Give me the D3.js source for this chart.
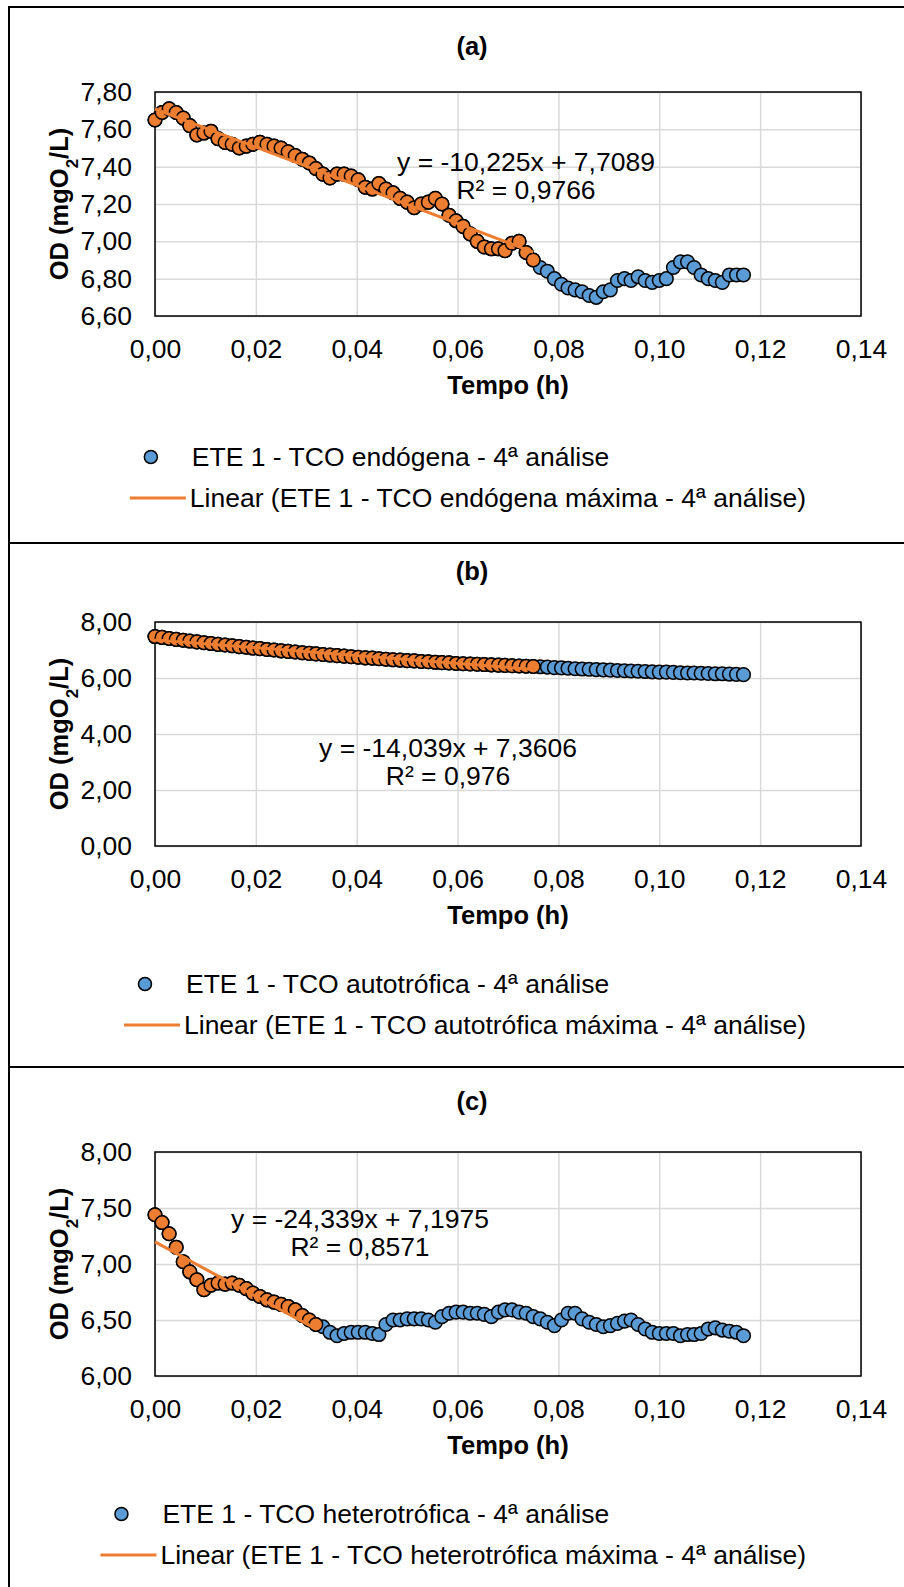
<!DOCTYPE html>
<html>
<head>
<meta charset="utf-8">
<script src="https://cdn.jsdelivr.net/npm/d3@7"></script>
<style>
  body { margin: 0; background: #fff; }
  svg { display: block; font-family: Arial, "Liberation Sans", sans-serif; }
</style>
</head>
<body>
<div id="chart"></div>
<script>
// Tempo (h) - one reading every 5 s
const tempo = [
  0.0000, 0.0014, 0.0028, 0.0042, 0.0056, 0.0069, 0.0083, 0.0097, 0.0111, 0.0125,
  0.0139, 0.0153, 0.0167, 0.0181, 0.0194, 0.0208, 0.0222, 0.0236, 0.0250, 0.0264,
  0.0278, 0.0292, 0.0306, 0.0319, 0.0333, 0.0347, 0.0361, 0.0375, 0.0389, 0.0403,
  0.0417, 0.0431, 0.0444, 0.0458, 0.0472, 0.0486, 0.0500, 0.0514, 0.0528, 0.0542,
  0.0556, 0.0569, 0.0583, 0.0597, 0.0611, 0.0625, 0.0639, 0.0653, 0.0667, 0.0681,
  0.0694, 0.0708, 0.0722, 0.0736, 0.0750, 0.0764, 0.0778, 0.0792, 0.0806, 0.0819,
  0.0833, 0.0847, 0.0861, 0.0875, 0.0889, 0.0903, 0.0917, 0.0931, 0.0944, 0.0958,
  0.0972, 0.0986, 0.1000, 0.1014, 0.1028, 0.1042, 0.1056, 0.1069, 0.1083, 0.1097,
  0.1111, 0.1125, 0.1139, 0.1153, 0.1167
];

// OD (mgO2/L)
const odEndogena = [
  7.65, 7.69, 7.71, 7.69, 7.66, 7.62, 7.57, 7.58, 7.59, 7.55,
  7.53, 7.52, 7.50, 7.51, 7.52, 7.53, 7.52, 7.51, 7.50, 7.48,
  7.46, 7.44, 7.42, 7.39, 7.36, 7.34, 7.36, 7.36, 7.35, 7.33,
  7.29, 7.28, 7.31, 7.28, 7.26, 7.23, 7.21, 7.18, 7.20, 7.21,
  7.23, 7.20, 7.14, 7.11, 7.08, 7.04, 7.00, 6.97, 6.96, 6.96,
  6.95, 6.99, 7.00, 6.94, 6.90, 6.86, 6.84, 6.80, 6.77, 6.75,
  6.74, 6.73, 6.71, 6.70, 6.73, 6.74, 6.79, 6.80, 6.79, 6.81,
  6.79, 6.78, 6.79, 6.80, 6.86, 6.89, 6.89, 6.86, 6.82, 6.80,
  6.79, 6.78, 6.82, 6.82, 6.82
];

const odAutotrofica = [
  7.48, 7.45, 7.41, 7.38, 7.35, 7.32, 7.29, 7.26, 7.23, 7.20,
  7.18, 7.15, 7.12, 7.10, 7.07, 7.05, 7.02, 7.00, 6.97, 6.95,
  6.93, 6.90, 6.88, 6.86, 6.84, 6.82, 6.80, 6.78, 6.76, 6.74,
  6.72, 6.71, 6.69, 6.67, 6.65, 6.64, 6.62, 6.61, 6.59, 6.58,
  6.56, 6.55, 6.54, 6.52, 6.51, 6.50, 6.49, 6.48, 6.47, 6.46,
  6.45, 6.44, 6.43, 6.42, 6.41, 6.40, 6.39, 6.37, 6.36, 6.35,
  6.33, 6.32, 6.31, 6.30, 6.29, 6.28, 6.27, 6.26, 6.25, 6.24,
  6.23, 6.22, 6.21, 6.21, 6.20, 6.19, 6.18, 6.18, 6.17, 6.16,
  6.15, 6.15, 6.14, 6.13, 6.12
];

const odHeterotrofica = [
  7.44, 7.37, 7.27, 7.15, 7.02, 6.93, 6.86, 6.77, 6.81, 6.83,
  6.82, 6.83, 6.81, 6.78, 6.74, 6.71, 6.68, 6.66, 6.64, 6.62,
  6.59, 6.54, 6.50, 6.46, 6.44, 6.39, 6.36, 6.38, 6.39, 6.39,
  6.39, 6.38, 6.37, 6.46, 6.50, 6.50, 6.51, 6.51, 6.51, 6.50,
  6.48, 6.53, 6.56, 6.57, 6.57, 6.56, 6.56, 6.55, 6.53, 6.57,
  6.59, 6.59, 6.57, 6.56, 6.53, 6.51, 6.48, 6.45, 6.50, 6.56,
  6.56, 6.51, 6.48, 6.46, 6.44, 6.45, 6.47, 6.49, 6.50, 6.46,
  6.42, 6.39, 6.38, 6.38, 6.38, 6.36, 6.37, 6.37, 6.38, 6.42,
  6.43, 6.41, 6.40, 6.39, 6.36
];

// number of first readings used for the "máxima" fit
const nMaxima = [55, 55, 24];

// trend lines (from the equations printed on the chart)
const slopes = [-10.225, -14.039, -24.339];
const intercepts = [7.7089, 7.3606, 7.1975];
const eqLabels = ["y = -10,225x + 7,7089", "y = -14,039x + 7,3606", "y = -24,339x + 7,1975"];
const r2Labels = ["R² = 0,9766", "R² = 0,976", "R² = 0,8571"];

const panelLabels = ["(a)", "(b)", "(c)"];
const xTicks = [0, 0.02, 0.04, 0.06, 0.08, 0.10, 0.12, 0.14];
const yTicksA = [6.6, 6.8, 7.0, 7.2, 7.4, 7.6, 7.8];
const yTicksB = [0, 2, 4, 6, 8];
const yTicksC = [6.0, 6.5, 7.0, 7.5, 8.0];

const seriesNames = [
  "ETE 1 - TCO endógena - 4ª análise",
  "ETE 1 - TCO autotrófica - 4ª análise",
  "ETE 1 - TCO heterotrófica - 4ª análise"
];
const trendNames = [
  "Linear (ETE 1 - TCO endógena máxima - 4ª análise)",
  "Linear (ETE 1 - TCO autotrófica máxima - 4ª análise)",
  "Linear (ETE 1 - TCO heterotrófica máxima - 4ª análise)"
];

// per-panel layout
const panels = [
  { od: odEndogena, yTicks: yTicksA, eqX: 526, eqY: 162, titleDy: 0, legDy: 0 },
  { od: odAutotrofica, yTicks: yTicksB, eqX: 448, eqY: 218, titleDy: -5, legDy: -3 },
  { od: odHeterotrofica, yTicks: yTicksC, eqX: 360, eqY: 159, titleDy: -5, legDy: -3 }
];

const BLUE = "#5B9BD5", ORANGE = "#ED7D31", GRID = "#D9D9D9";
const W = 904, H = 1587;
const plot = { left: 155, right: 861, top: 92, bottom: 316 };
const panelStep = 530;
const frameTops = [7, 543, 1067, 1600];
const FS = 26.5, FS_BOLD = 25.5;

const locale = d3.formatLocale({ decimal: ",", thousands: ".", grouping: [3], currency: ["", ""] });
const f2 = locale.format(".2f");

const svg = d3.select("#chart").append("svg")
  .attr("width", W)
  .attr("height", H);

// outer frames of the three stacked charts
for (let k = 0; k < 3; k++) {
  svg.append("rect")
    .attr("x", 9)
    .attr("y", frameTops[k])
    .attr("width", 1000)
    .attr("height", frameTops[k + 1] - frameTops[k])
    .attr("fill", "none")
    .attr("stroke", "#000")
    .attr("stroke-width", 2);
}

const x = d3.scaleLinear().domain([0, 0.14]).range([plot.left, plot.right]);

panels.forEach((p, k) => {
  const g = svg.append("g").attr("transform", `translate(0,${k * panelStep})`);
  const y = d3.scaleLinear()
    .domain([p.yTicks[0], p.yTicks[p.yTicks.length - 1]])
    .range([plot.bottom, plot.top]);
  const h = plot.bottom - plot.top;
  const w = plot.right - plot.left;

  // gridlines
  g.append("g")
    .attr("transform", `translate(0,${plot.bottom})`)
    .call(d3.axisBottom(x).tickValues(xTicks).tickSize(-h).tickFormat(""))
    .call(a => a.select(".domain").remove())
    .call(a => a.selectAll("line").attr("stroke", GRID).attr("stroke-width", 1.5));
  g.append("g")
    .attr("transform", `translate(${plot.left},0)`)
    .call(d3.axisLeft(y).tickValues(p.yTicks).tickSize(-w).tickFormat(""))
    .call(a => a.select(".domain").remove())
    .call(a => a.selectAll("line").attr("stroke", GRID).attr("stroke-width", 1.5));

  // plot border
  g.append("rect")
    .attr("x", plot.left).attr("y", plot.top)
    .attr("width", w).attr("height", h)
    .attr("fill", "none").attr("stroke", "#000").attr("stroke-width", 1.5);

  // tick labels
  g.append("g")
    .attr("transform", `translate(0,${plot.bottom})`)
    .call(d3.axisBottom(x).tickValues(xTicks).tickSize(0).tickPadding(23).tickFormat(f2))
    .call(a => a.select(".domain").remove())
    .call(a => a.selectAll("text").attr("font-size", FS).attr("fill", "#000").attr("font-family", null));
  g.append("g")
    .attr("transform", `translate(${plot.left},0)`)
    .call(d3.axisLeft(y).tickValues(p.yTicks).tickSize(0).tickPadding(23).tickFormat(f2))
    .call(a => a.select(".domain").remove())
    .call(a => a.selectAll("text").attr("font-size", FS).attr("fill", "#000").attr("font-family", null));

  // title
  g.append("text")
    .attr("x", 472).attr("y", 46 + p.titleDy)
    .attr("text-anchor", "middle").attr("dominant-baseline", "central")
    .attr("font-size", FS_BOLD).attr("font-weight", 700)
    .text(panelLabels[k]);

  // axis titles
  g.append("text")
    .attr("x", (plot.left + plot.right) / 2).attr("y", 385)
    .attr("text-anchor", "middle").attr("dominant-baseline", "central")
    .attr("font-size", FS_BOLD).attr("font-weight", 700)
    .text("Tempo (h)");
  const yt = g.append("text")
    .attr("transform", `translate(68,${(plot.top + plot.bottom) / 2}) rotate(-90)`)
    .attr("text-anchor", "middle")
    .attr("font-size", FS_BOLD).attr("font-weight", 700);
  yt.append("tspan").text("OD (mgO");
  yt.append("tspan").attr("font-size", 17).attr("baseline-shift", "sub").text("2");
  yt.append("tspan").text("/L)");

  // points: full series in blue, "máxima" subset in orange on top
  const pts = p.od.map((v, i) => ({ t: tempo[i], v: v, fit: i < nMaxima[k] }));
  g.append("g").selectAll("circle")
    .data(pts)
    .join("circle")
    .attr("cx", d => x(d.t))
    .attr("cy", d => y(d.v))
    .attr("r", 6.8)
    .attr("fill", BLUE)
    .attr("stroke", "#000")
    .attr("stroke-width", 1.5);
  g.append("g").selectAll("circle")
    .data(pts.filter(d => d.fit))
    .join("circle")
    .attr("cx", d => x(d.t))
    .attr("cy", d => y(d.v))
    .attr("r", 6.8)
    .attr("fill", ORANGE)
    .attr("stroke", "#000")
    .attr("stroke-width", 1.5);

  // linear trend line over the fitted range
  const t0 = tempo[0], t1 = tempo[nMaxima[k] - 1];
  g.append("line")
    .attr("x1", x(t0)).attr("y1", y(slopes[k] * t0 + intercepts[k]))
    .attr("x2", x(t1)).attr("y2", y(slopes[k] * t1 + intercepts[k]))
    .attr("stroke", ORANGE).attr("stroke-width", 3);

  // equation + R²
  g.append("text")
    .attr("x", p.eqX).attr("y", p.eqY)
    .attr("text-anchor", "middle").attr("dominant-baseline", "central")
    .attr("font-size", FS)
    .text(eqLabels[k]);
  g.append("text")
    .attr("x", p.eqX).attr("y", p.eqY + 28)
    .attr("text-anchor", "middle").attr("dominant-baseline", "central")
    .attr("font-size", FS)
    .text(r2Labels[k]);

  // legend, right edge of the text kept at a fixed position
  const legRight = 806;
  const ly1 = 457 + p.legDy, ly2 = 498 + p.legDy;
  const row1 = g.append("text")
    .attr("y", ly1).attr("dominant-baseline", "central")
    .attr("font-size", FS).text(seriesNames[k]);
  const row2 = g.append("text")
    .attr("y", ly2).attr("dominant-baseline", "central")
    .attr("font-size", FS).text(trendNames[k]);
  const textLeft = legRight - row2.node().getComputedTextLength();
  row2.attr("x", textLeft);
  row1.attr("x", textLeft + 2);
  g.append("line")
    .attr("x1", textLeft - 60).attr("x2", textLeft - 4)
    .attr("y1", ly2).attr("y2", ly2)
    .attr("stroke", ORANGE).attr("stroke-width", 3);
  g.append("circle")
    .attr("cx", textLeft - 39).attr("cy", ly1).attr("r", 6.5)
    .attr("fill", BLUE).attr("stroke", "#000").attr("stroke-width", 1.5);
});
</script>
</body>
</html>
